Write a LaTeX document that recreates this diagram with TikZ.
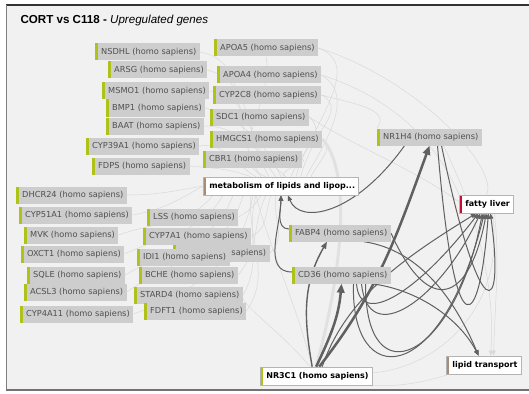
\documentclass[tikz,border=0pt]{standalone}
\usepackage{fontspec}
\setmainfont{Liberation Sans}
\newfontfamily\genefont{DejaVu Sans}
\usetikzlibrary{arrows.meta}
\definecolor{panel}{HTML}{F1F1F1}
\definecolor{genefill}{HTML}{CDCDCD}
\definecolor{genetext}{HTML}{505050}
\definecolor{genebar}{HTML}{AEC21A}
\definecolor{diseasebar}{HTML}{C41030}
\definecolor{pathbar}{HTML}{A88C78}
\definecolor{termline}{HTML}{B4B4B4}
\definecolor{edgedark}{HTML}{606060}
\definecolor{edgelight}{HTML}{D9D9D9}
\pgfdeclarelayer{panelbg}
\pgfdeclarelayer{edges}
\pgfsetlayers{panelbg,edges,main}
\tikzset{
	bar/.style={
		path picture={\fill[#1] (path picture bounding box.south west) rectangle ([xshift=3pt]path picture bounding box.north west);}
	},
	gene/.append style={
		fill=genefill,
		text=genetext,
		font={\genefont\fontsize{8.25}{9}\selectfont},
		anchor=west,
		minimum height=17pt,
		inner ysep=0pt,
		inner xsep=3.5pt,
		execute at begin node={\hspace*{2.5pt}},
		bar=genebar
	},
	term/.append style={
		draw=termline,
		line width=0.6pt,
		fill=white,
		text=black,
		font={\genefont\bfseries\fontsize{8}{9}\selectfont},
		anchor=west,
		minimum height=18pt,
		inner ysep=0pt,
		inner xsep=3.5pt,
		execute at begin node={\hspace*{2.5pt}}
	},
	dk/.append style={
		draw=edgedark,
		line width=1pt,
		-{Triangle[length=5.5pt,width=4.5pt]}
	},
	dkthick/.append style={
		draw=edgedark,
		line width=2.5pt,
		-{Triangle[length=9pt,width=7.5pt]}
	},
	lt/.append style={
		draw=edgelight,
		line width=0.5pt
	}
}

\begin{document}
\begin{tikzpicture}[x=1pt,y=1pt]
\useasboundingbox (0,0) rectangle (529,-393);

\begin{pgfonlayer}{panelbg}
\fill[white] (0,0) rectangle (529,-393);
\fill[panel] (6,-5) rectangle (529,-389);
\draw[line width=1.6pt, black!80] (6,-5) -- (529,-5);
\draw[line width=1.6pt, black!50] (6.5,-5) -- (6.5,-389);
\draw[line width=2pt, black!55] (6,-389.5) -- (529,-389.5);
\end{pgfonlayer}

\node(title)[anchor=base west, font=\fontsize{11.6}{14}\selectfont] at (17,-24) {\textbf{CORT vs C118 -} \textit{Upregulated genes}};

% genes above the pathway
\node(nsdhl)[gene] at (95,-52) {NSDHL (homo sapiens)};
\node(apoa5)[gene] at (214,-48) {APOA5 (homo sapiens)};
\node(arsg)[gene] at (108,-70) {ARSG (homo sapiens)};
\node(apoa4)[gene] at (217,-75) {APOA4 (homo sapiens)};
\node(msmo1)[gene] at (102,-91) {MSMO1 (homo sapiens)};
\node(cyp2c8)[gene] at (213,-95) {CYP2C8 (homo sapiens)};
\node(bmp1)[gene] at (106,-108) {BMP1 (homo sapiens)};
\node(sdc1)[gene] at (210,-117) {SDC1 (homo sapiens)};
\node(baat)[gene] at (106,-126) {BAAT (homo sapiens)};
\node(hmgcs1)[gene] at (210,-139) {HMGCS1 (homo sapiens)};
\node(cyp39a1)[gene] at (86,-146) {CYP39A1 (homo sapiens)};
\node(cbr1)[gene] at (203,-159) {CBR1 (homo sapiens)};
\node(fdps)[gene] at (92,-166) {FDPS (homo sapiens)};

% genes below the pathway
\node(dhcr24)[gene] at (16,-195) {DHCR24 (homo sapiens)};
\node(cyp51a1)[gene] at (19,-215) {CYP51A1 (homo sapiens)};
\node(lss)[gene] at (147,-217) {LSS (homo sapiens)};
\node(mvk)[gene] at (24,-235) {MVK (homo sapiens)};
\node(cyp7a1)[gene] at (143,-236) {CYP7A1 (homo sapiens)};
\node(oxct1)[gene] at (21,-254) {OXCT1 (homo sapiens)};
\node(hidden)[gene, text width=89.5pt, align=right] at (173,-253) {sapiens)};
\node(idi1)[gene] at (137,-257) {IDI1 (homo sapiens)};
\node(sqle)[gene] at (27,-275) {SQLE (homo sapiens)};
\node(bche)[gene] at (139,-275) {BCHE (homo sapiens)};
\node(acsl3)[gene] at (24,-292) {ACSL3 (homo sapiens)};
\node(stard4)[gene] at (134,-295) {STARD4 (homo sapiens)};
\node(cyp4a11)[gene] at (20,-314) {CYP4A11 (homo sapiens)};
\node(fdft1)[gene] at (144,-311) {FDFT1 (homo sapiens)};

% regulated genes
\node(fabp4)[gene] at (289,-233) {FABP4 (homo sapiens)};
\node(cd36)[gene] at (292,-275) {CD36 (homo sapiens)};
\node(nr1h4)[gene] at (377,-137) {NR1H4 (homo sapiens)};

% terms
\node(metab)[term, bar=pathbar] at (203,-186) {metabolism of lipids and lipop...};
\node(fatty)[term, bar=diseasebar] at (459,-204) {fatty liver};
\node(lipid)[term, bar=pathbar] at (446,-365) {lipid transport};
\node(nr3c1)[term, bar=genebar] at (260,-376) {NR3C1 (homo sapiens)};

\begin{pgfonlayer}{edges}
% faint links
\draw[lt] (nsdhl.east) to[out=-10,in=125] ([xshift=-20pt]metab.north);
\draw[lt] (arsg.east) to[out=-15,in=120] ([xshift=-12pt]metab.north);
\draw[lt] (msmo1.east) to[out=-5,in=130] ([xshift=-5pt]metab.north);
\draw[lt] (bmp1.east) to[out=-20,in=115] (metab.north);
\draw[lt] (baat.east) to[out=0,in=140] ([xshift=5pt]metab.north);
\draw[lt] (cyp39a1.east) to[out=10,in=150] ([xshift=-25pt]metab.north);
\draw[lt] (fdps.east) to[out=-5,in=160] ([xshift=-30pt]metab.north);
\draw[lt] (apoa5.east) to[out=-20,in=75] ([xshift=15pt]metab.north);
\draw[lt] (apoa4.east) to[out=-30,in=60] ([xshift=25pt]metab.north);
\draw[lt] (cyp2c8.east) to[out=-25,in=70] ([xshift=10pt]metab.north);
\draw[lt] (sdc1.east) to[out=-40,in=80] ([xshift=20pt]metab.north);
\draw[lt] (hmgcs1.east) to[out=-30,in=65] ([xshift=30pt]metab.north);
\draw[lt] (cbr1.east) to[out=-20,in=90] ([xshift=2pt]metab.north);
\draw[lt] (apoa5.south) to[out=-80,in=160] ([xshift=-15pt]metab.north);
\draw[lt] (dhcr24.east) to[out=0,in=190] (metab.west);
\draw[lt] (cyp51a1.east) to[out=10,in=210] (metab.west);
\draw[lt] (mvk.east) to[out=20,in=230] ([xshift=10pt]metab.south west);
\draw[lt] (oxct1.east) to[out=25,in=240] ([xshift=20pt]metab.south west);
\draw[lt] (sqle.east) to[out=30,in=250] ([xshift=30pt]metab.south west);
\draw[lt] (acsl3.east) to[out=35,in=255] ([xshift=40pt]metab.south west);
\draw[lt] (cyp4a11.east) to[out=20,in=260] ([xshift=50pt]metab.south west);
\draw[lt] (lss.east) to[out=30,in=-120] ([xshift=-20pt]metab.south);
\draw[lt] (cyp7a1.east) to[out=20,in=-110] ([xshift=-10pt]metab.south);
\draw[lt] (hidden.east) to[out=40,in=-100] ([xshift=-5pt]metab.south);
\draw[lt] (bche.east) to[out=50,in=-115] ([xshift=-15pt]metab.south);
\draw[lt] (stard4.east) to[out=60,in=-105] ([xshift=-25pt]metab.south);
\draw[lt] (fdft1.east) to[out=55,in=-95] ([xshift=-30pt]metab.south);
\draw[lt] (apoa4.east) .. controls (400,-100) and (440,-150) .. (fatty.north west);
\draw[lt] (cyp2c8.east) .. controls (360,-105) and (390,-110) .. (nr1h4.north west);
\draw[lt] (apoa5.east) .. controls (420,-80) and (500,-170) .. (fatty.north);
\draw[lt] (sdc1.east) .. controls (360,-150) and (420,-170) .. ([xshift=-12pt]fatty.south);
\draw[lt] ([xshift=-4pt]nr3c1.north) .. controls (295,-300) and (270,-250) .. ([xshift=-25pt]metab.south);
\draw[lt] ([xshift=-6pt]nr3c1.north) .. controls (270,-320) and (230,-300) .. (stard4.north east);
\draw[lt] ([xshift=8pt]nr3c1.north) .. controls (360,-400) and (440,-385) .. ([xshift=7pt]lipid.north);
\draw[lt] ([xshift=10pt]nr3c1.north) .. controls (400,-395) and (510,-330) .. ([xshift=6pt]fatty.south);
\draw[lt, -{Triangle[length=5pt,width=4pt]}] ([xshift=14pt]nr1h4.south) .. controls (480,-220) and (495,-290) .. ([xshift=7pt]lipid.north);
\draw[lt, -{Triangle[length=5pt,width=4pt]}] ([xshift=8pt]fatty.south) .. controls (500,-260) and (495,-300) .. ([xshift=10pt]lipid.north);
\draw[edgelight!80, line width=3pt] (nr3c1.north) .. controls (345,-260) and (350,-170) .. (hmgcs1.east);
% dark links
\draw[dkthick] (nr3c1.north) to[out=65,in=-95] (cd36.south);
\draw[dk, line width=1.4pt, -{Triangle[length=7pt,width=5.5pt]}] ([xshift=-4pt]nr3c1.north) to[out=100,in=-120] ([xshift=-13pt]fabp4.south);
\draw[dkthick] ([xshift=3pt]nr3c1.north) to[out=52,in=-110] (nr1h4.south);
\draw[dk] ([yshift=3pt]cd36.west) to[out=180,in=-90] (metab.south);
\draw[dk] ([yshift=4pt]fabp4.west) to[out=180,in=-90] (metab.south);
\draw[dk] ([xshift=-25pt]nr1h4.south) .. controls (355,-215) and (300,-225) .. ([xshift=7pt]metab.south);
\draw[dk] ([xshift=15pt]cd36.south) .. controls (360,-330) and (420,-290) .. ([xshift=-8pt]fatty.south);
\draw[dk] ([xshift=20pt]cd36.south) .. controls (368,-350) and (440,-300) .. ([xshift=-6pt]fatty.south);
\draw[dk] ([xshift=24pt]cd36.south) .. controls (365,-400) and (455,-360) .. ([xshift=-4pt]fatty.south);
\draw[dk] ([xshift=12pt]cd36.south) .. controls (350,-390) and (440,-390) .. ([xshift=-2pt]fatty.south);
\draw[dk] (fabp4.east) .. controls (430,-320) and (470,-300) .. (fatty.south);
\draw[dk] ([xshift=6pt]nr3c1.north) .. controls (345,-300) and (400,-260) .. ([xshift=-10pt]fatty.south);
\draw[dk] ([xshift=8pt]nr1h4.south) .. controls (455,-360) and (480,-330) .. ([xshift=2pt]fatty.south);
\draw[dk] ([xshift=12pt]nr1h4.south) .. controls (480,-330) and (505,-320) .. ([xshift=4pt]fatty.south);
\draw[dk] ([xshift=24pt]fabp4.south) .. controls (420,-250) and (455,-300) .. ([xshift=-5pt]lipid.north);
\draw[dk] ([xshift=30pt]cd36.south) .. controls (420,-290) and (460,-320) .. ([xshift=-5pt]lipid.north);
\end{pgfonlayer}

\end{tikzpicture}
\end{document}
